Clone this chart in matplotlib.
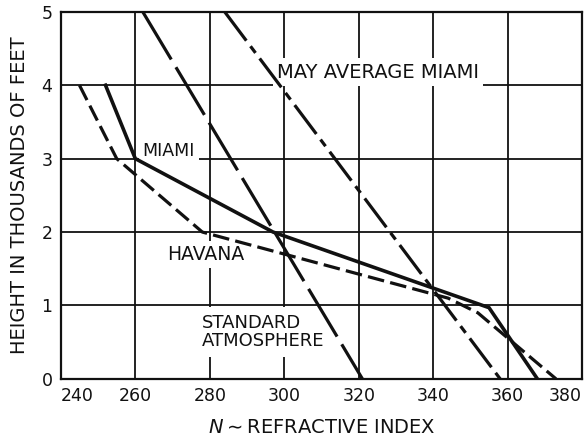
import matplotlib
matplotlib.use("Agg")
import matplotlib.pyplot as plt

plt.rcParams['font.family'] = ['DejaVu Sans']
plt.rcParams['lines.scale_dashes'] = False

# refractive index N (x) vs height in thousands of feet (y)
miami_n = [252, 260, 297, 355, 368]
miami_h = [4, 3, 2, 0.97, 0]

havana_n = [245, 255, 278, 344, 352, 373]
havana_h = [4, 3, 2, 1.1, 0.9, 0]

standard_n = [262, 321]
standard_h = [5, 0]

may_avg_n = [284, 358]
may_avg_h = [5, 0]

x_ticks = [240, 260, 280, 300, 320, 340, 360, 380]
y_ticks = [0, 1, 2, 3, 4, 5]

fig = plt.figure(figsize=(5.85, 4.37), dpi=100)
ax = fig.add_axes([0.104, 0.133, 0.891, 0.840])

ink = '#111111'
ax.plot(miami_n, miami_h, color=ink, lw=2.6, solid_joinstyle='miter', zorder=5)
ax.plot(havana_n, havana_h, color=ink, lw=2.3, linestyle=(0, (12, 4.5)), zorder=5)
ax.plot(standard_n, standard_h, color=ink, lw=2.3, linestyle=(0, (40, 6.5)), zorder=5)
ax.plot(may_avg_n, may_avg_h, color=ink, lw=2.3, linestyle=(0, (26, 5, 6, 5)), zorder=5)

ax.set_xlim(240, 380)
ax.set_ylim(0, 5)
ax.set_xticks(x_ticks)
ax.set_yticks(y_ticks)
ax.tick_params(length=0, labelsize=12.5, colors=ink, pad=6)
xl = ax.get_xticklabels()
xl[0].set_ha('left')
xl[-1].set_ha('right')
ax.grid(True, color=ink, lw=1.3)
ax.set_axisbelow(True)
for s in ax.spines.values():
    s.set_color(ink)
    s.set_linewidth(1.6)

box = dict(facecolor='white', edgecolor='none', pad=3)
ax.text(298, 4.18, 'MAY AVERAGE MIAMI', fontsize=14, ha='left', va='center',
        color=ink, bbox=box, zorder=3)
ax.text(262, 3.1, 'MIAMI', fontsize=12.5, ha='left', va='center', color=ink,
        bbox=box, zorder=3)
ax.text(268.5, 1.69, 'HAVANA', fontsize=13.5, ha='left', va='center', color=ink,
        bbox=box, zorder=3)
ax.text(278, 0.64, 'STANDARD\nATMOSPHERE', fontsize=13, ha='left', va='center',
        color=ink, linespacing=1.05, bbox=dict(facecolor='white', edgecolor='none', pad=5),
        zorder=3)

ax.set_xlabel(r'$N$$\sim$REFRACTIVE INDEX', fontsize=14, color=ink, labelpad=9)
ax.set_ylabel('HEIGHT IN THOUSANDS OF FEET', fontsize=14, color=ink, labelpad=9)

fig.savefig('out.png', dpi=100)
